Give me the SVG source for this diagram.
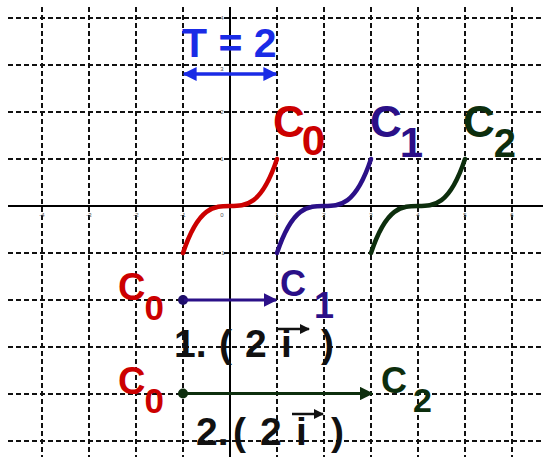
<svg xmlns="http://www.w3.org/2000/svg" width="543" height="457" viewBox="0 0 543 457">
<style>
.grid{stroke:#111;stroke-width:2;stroke-dasharray:5 3;fill:none}
.axis{stroke:#000;stroke-width:2;fill:none}
.tick{font-family:"Liberation Sans",Arial,sans-serif;font-size:6px;fill:#555;text-anchor:middle}
.lbl{font-family:"Liberation Sans",Arial,sans-serif;font-weight:bold}
.curve{fill:none;stroke-width:4.5;stroke-linecap:round}
.red{fill:#cc0000}
.ind{fill:#2b1088}
.grn{fill:#0d2e0d}
.blk{fill:#111}
</style>
<defs>
<marker id="hBlue" viewBox="0 0 10 10" refX="9" refY="5" markerWidth="4" markerHeight="4" orient="auto-start-reverse" markerUnits="strokeWidth"><path d="M0,0 L10,5 L0,10 z" fill="#1a2be6"/></marker>
<marker id="hInd" viewBox="0 0 10 10" refX="9" refY="5" markerWidth="4.5" markerHeight="4.5" orient="auto" markerUnits="strokeWidth"><path d="M0,0 L10,5 L0,10 z" fill="#2b1088"/></marker>
<marker id="hGrn" viewBox="0 0 10 10" refX="9" refY="5" markerWidth="4.5" markerHeight="4.5" orient="auto" markerUnits="strokeWidth"><path d="M0,0 L10,5 L0,10 z" fill="#0d2e0d"/></marker>
<marker id="hBlk" viewBox="0 0 10 10" refX="9" refY="5" markerWidth="4" markerHeight="4" orient="auto" markerUnits="strokeWidth"><path d="M0,0 L10,5 L0,10 z" fill="#111"/></marker>
</defs>
<rect width="543" height="457" fill="#fff"/>
<g id="grid">
<path class="grid" d="M42,7V457M89,7V457M136,7V457M183,7V457M277,7V457M324,7V457M371,7V457M418,7V457M465,7V457M512,7V457"/>
<path class="grid" d="M8,18H543M8,65H543M8,112H543M8,159H543M8,253H543M8,300H543M8,347H543M8,394H543M8,441H543"/>
<path class="axis" d="M8,206H543M230,7V457"/>
</g>
<g id="ticks">
<text class="tick" x="42" y="217">-4</text>
<text class="tick" x="89" y="217">-3</text>
<text class="tick" x="136" y="217">-2</text>
<text class="tick" x="183" y="217">-1</text>
<text class="tick" x="222" y="217">0</text>
<text class="tick" x="277" y="217">1</text>
<text class="tick" x="324" y="217">2</text>
<text class="tick" x="371" y="217">3</text>
<text class="tick" x="418" y="217">4</text>
<text class="tick" x="465" y="217">5</text>
<text class="tick" x="512" y="217">6</text>
<text class="tick" x="222" y="20">4</text>
<text class="tick" x="222" y="71">3</text>
<text class="tick" x="222" y="114">2</text>
<text class="tick" x="222" y="161">1</text>
<text class="tick" x="222" y="255">-1</text>
</g>
<g id="period">
<text class="lbl" x="182" y="57" font-size="41" fill="#1a2be6">T = 2</text>
<line x1="184" y1="74" x2="276" y2="74" stroke="#1a2be6" stroke-width="3.5" marker-start="url(#hBlue)" marker-end="url(#hBlue)"/>
</g>
<g id="C0">
<path class="curve" stroke="#cc0000" d="M183,253 C214.33,159 245.67,253 277,159"/>
<text class="lbl red" x="273" y="137" font-size="44">C<tspan dx="-3" dy="18" font-size="42">0</tspan></text>
</g>
<g id="C1">
<path class="curve" stroke="#2b1088" d="M277,253 C308.33,159 339.67,253 371,159"/>
<text class="lbl ind" x="370" y="137" font-size="44">C<tspan dx="-2" dy="20" font-size="42">1</tspan></text>
</g>
<g id="C2">
<path class="curve" stroke="#0d2e0d" d="M371,253 C402.33,159 433.67,253 465,159"/>
<text class="lbl grn" x="463" y="137" font-size="44">C<tspan dx="-1" dy="20" font-size="40">2</tspan></text>
</g>
<g id="row1">
<text class="lbl red" x="118" y="300" font-size="38">C<tspan dx="-1" dy="20" font-size="35">0</tspan></text>
<circle cx="183" cy="300" r="5" fill="#1f0f6a"/>
<text class="lbl ind" x="280" y="296" font-size="36">C<tspan dx="8" dy="22" font-size="36">1</tspan></text>
<text class="lbl blk" y="357" font-size="39"><tspan x="174">1.</tspan><tspan x="219">(</tspan><tspan x="245">2</tspan><tspan x="281">i</tspan><tspan x="321">)</tspan></text>
</g>
<g id="row2">
<text class="lbl red" x="118" y="394" font-size="38">C<tspan dx="-1" dy="19" font-size="35">0</tspan></text>
<circle cx="183" cy="393.5" r="5" fill="#0d2e0d"/>
<text class="lbl grn" x="381" y="393" font-size="36">C<tspan dx="6" dy="19" font-size="34">2</tspan></text>
<text class="lbl blk" y="445" font-size="39"><tspan x="196">2.</tspan><tspan x="233">(</tspan><tspan x="260">2</tspan><tspan x="296">i</tspan><tspan x="331">)</tspan></text>
</g>
<g id="connectors">
<line x1="184" y1="300" x2="276" y2="300" stroke="#2b1088" stroke-width="3" marker-end="url(#hInd)"/>
<line x1="184" y1="393.5" x2="372" y2="393.5" stroke="#0d2e0d" stroke-width="3" marker-end="url(#hGrn)"/>
<line x1="278" y1="329" x2="309" y2="329" stroke="#111" stroke-width="2.5" marker-end="url(#hBlk)"/>
<line x1="292" y1="414" x2="323" y2="414" stroke="#111" stroke-width="2.5" marker-end="url(#hBlk)"/>
</g>
</svg>
